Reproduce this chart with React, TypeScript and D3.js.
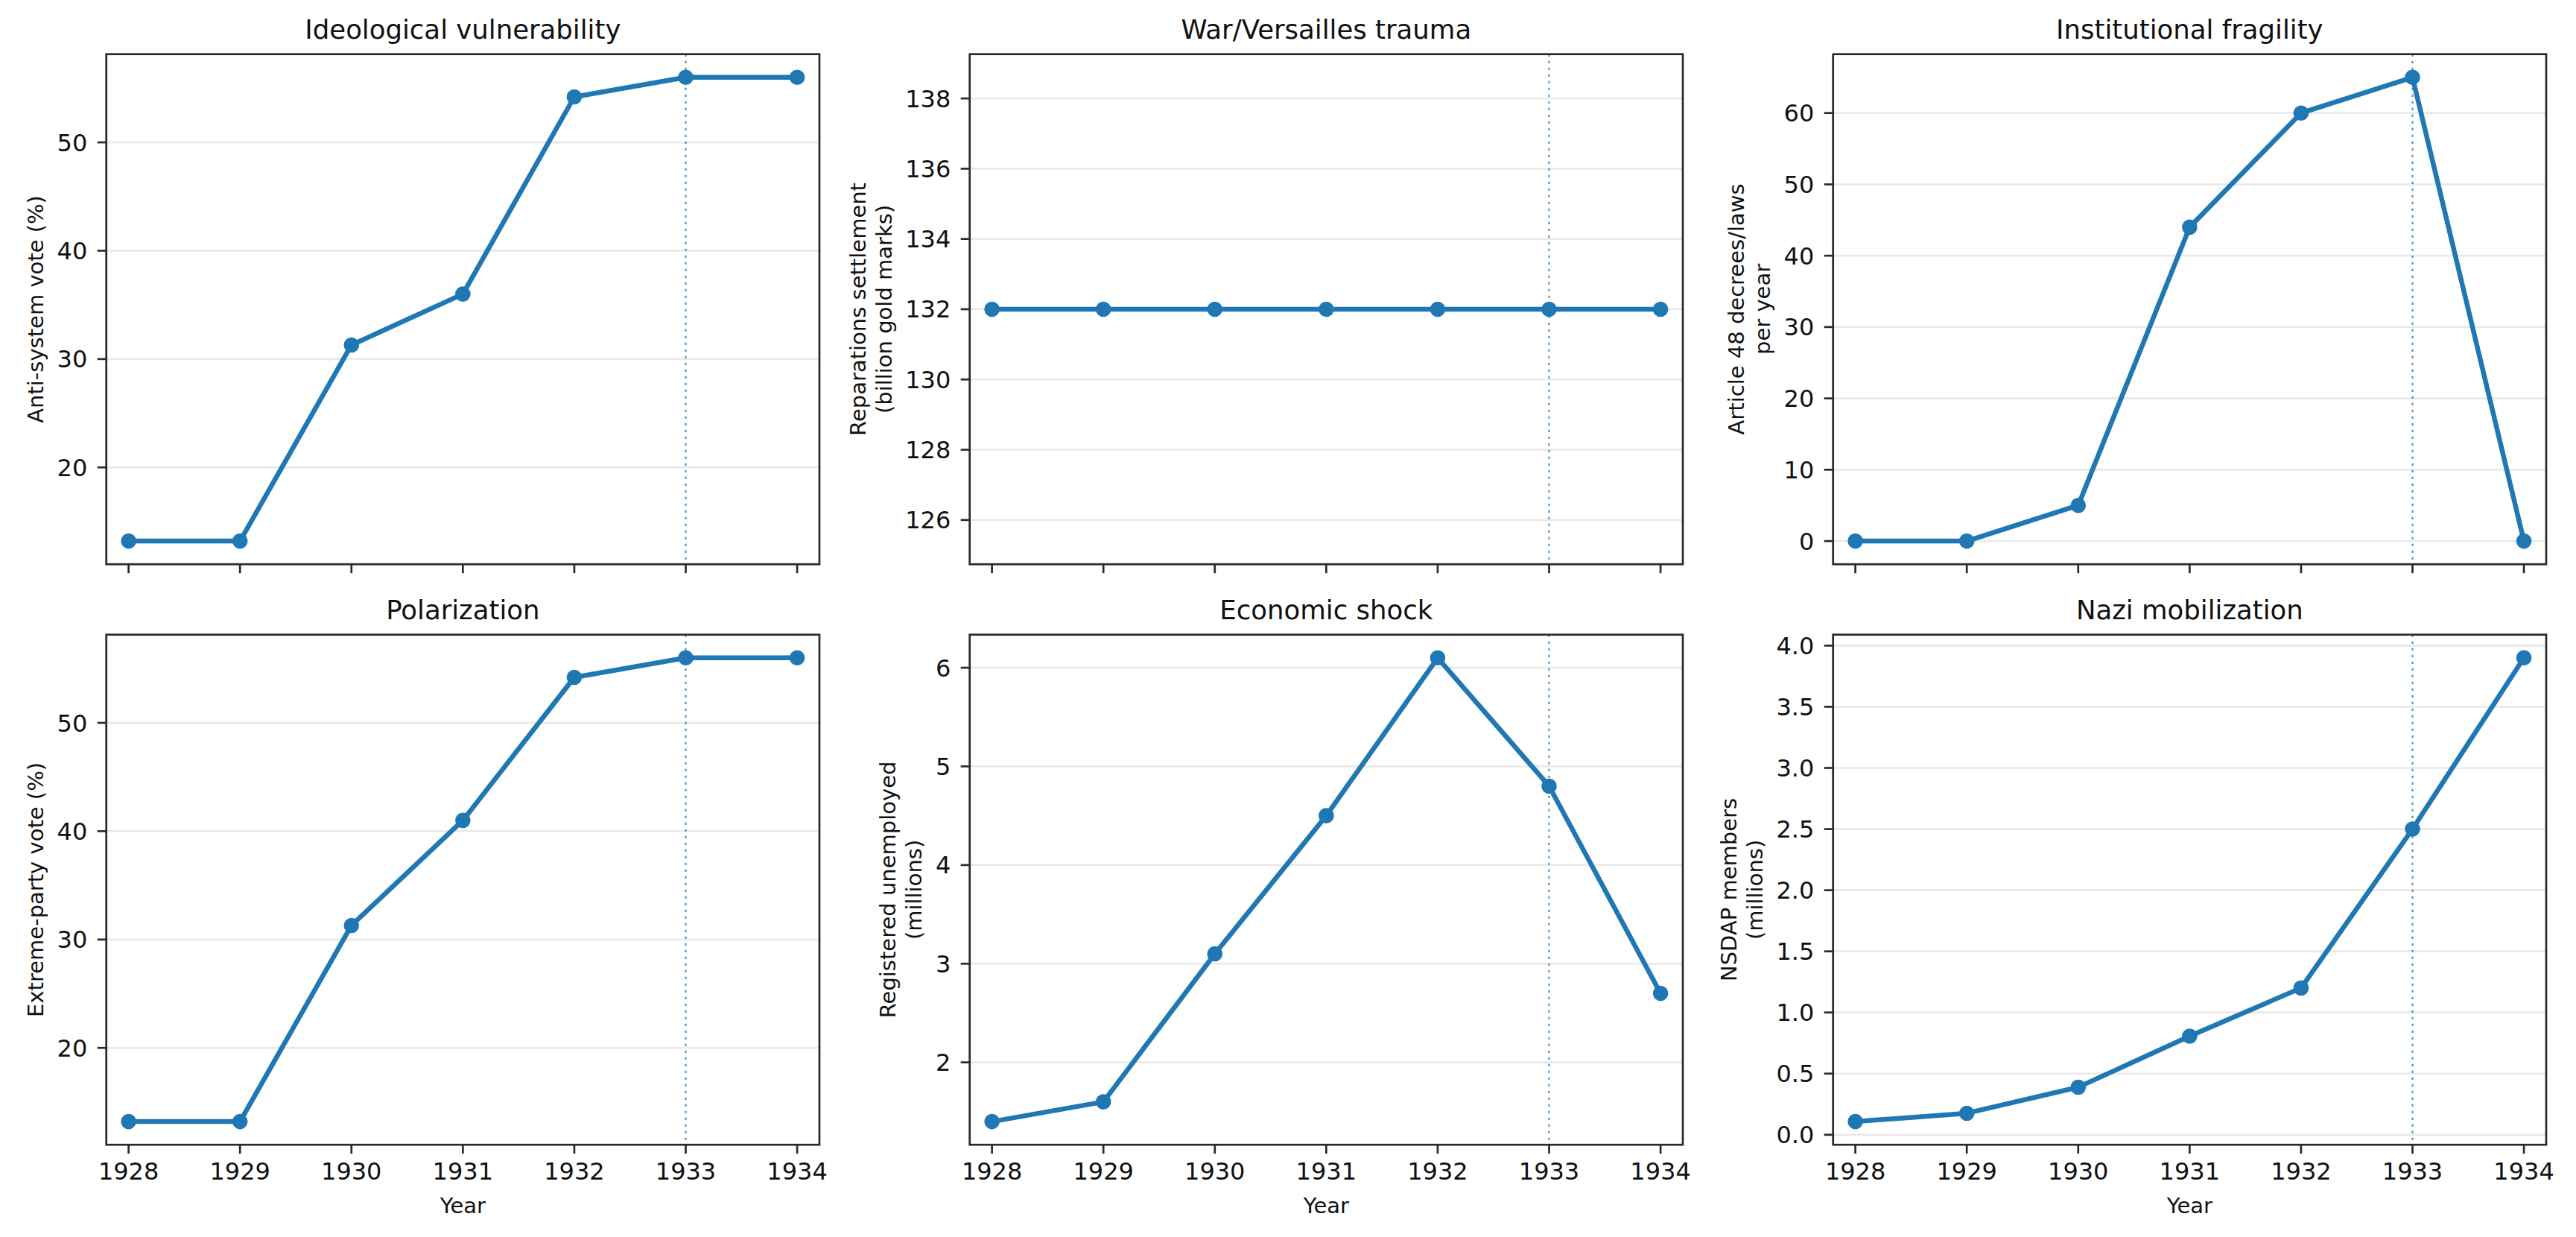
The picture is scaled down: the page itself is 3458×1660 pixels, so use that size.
import React from "react";
import * as d3 from "d3";

// Weimar collapse indicators, 1928-1934
const years = [1928, 1929, 1930, 1931, 1932, 1933, 1934];
const antiSystemVote = [13.2, 13.2, 31.3, 36.0, 54.2, 56.0, 56.0];
const reparations = [132, 132, 132, 132, 132, 132, 132];
const article48Decrees = [0, 0, 5, 44, 60, 65, 0];
const extremePartyVote = [13.2, 13.2, 31.3, 41.0, 54.2, 56.0, 56.0];
const unemployed = [1.4, 1.6, 3.1, 4.5, 6.1, 4.8, 2.7];
const nsdapMembers = [0.108, 0.176, 0.389, 0.806, 1.2, 2.5, 3.9];

const voteTicks = [20, 30, 40, 50];
const reparationTicks = [126, 128, 130, 132, 134, 136, 138];
const decreeTicks = [0, 10, 20, 30, 40, 50, 60];
const unemployedTicks = [2, 3, 4, 5, 6];
const memberTicks = [0, 0.5, 1, 1.5, 2, 2.5, 3, 3.5, 4];

const highlightYear = 1933;
const xDomain: [number, number] = [1927.8, 1934.2];

const panels = [
  { title: "Ideological vulnerability", ylabel: ["Anti-system vote (%)"], values: antiSystemVote, ticks: voteTicks, digits: 0 },
  { title: "War/Versailles trauma", ylabel: ["Reparations settlement", "(billion gold marks)"], values: reparations, ticks: reparationTicks, digits: 0 },
  { title: "Institutional fragility", ylabel: ["Article 48 decrees/laws", "per year"], values: article48Decrees, ticks: decreeTicks, digits: 0 },
  { title: "Polarization", ylabel: ["Extreme-party vote (%)"], values: extremePartyVote, ticks: voteTicks, digits: 0 },
  { title: "Economic shock", ylabel: ["Registered unemployed", "(millions)"], values: unemployed, ticks: unemployedTicks, digits: 0 },
  { title: "Nazi mobilization", ylabel: ["NSDAP members", "(millions)"], values: nsdapMembers, ticks: memberTicks, digits: 1 },
];

const W = 3458;
const H = 1660;
const colLeft = [142.7, 1301.7, 2460.7];
const rowTop = [72.7, 851.7];
const plotW = 957.3;
const plotH = 684.5;

const FONT = "DejaVu Sans";
const tickFs = 32;
const labelFs = 29;
const titleFs = 35.5;
const tickLen = 12;
const tickPad = 13.4;
const blue = "#1f77b4";

// matplotlib-style autoscale: 5% margin, constant data widened first
function paddedDomain(values: number[]): [number, number] {
  let [lo, hi] = d3.extent(values) as [number, number];
  if (lo === hi) {
    const d = Math.abs(lo) * 0.05 || 1;
    lo -= d;
    hi += d;
  }
  const m = (hi - lo) * 0.05;
  return [lo - m, hi + m];
}

function labelWidth(s: string) {
  let w = 0;
  for (const c of s) w += c === "." ? 0.318 : 0.636;
  return w * tickFs;
}

function Panel({ spec, left, top, bottomRow }: any) {
  const x = d3.scaleLinear().domain(xDomain).range([0, plotW]);
  const y = d3.scaleLinear().domain(paddedDomain(spec.values)).range([plotH, 0]);
  const fmt = (t: number) => t.toFixed(spec.digits);
  const path = d3
    .line<number>()
    .x((_, i) => x(years[i]))
    .y((d) => y(d))(spec.values);

  const labelsLeft = -tickLen - tickPad - (d3.max(spec.ticks.map((t: number) => labelWidth(fmt(t)))) as number);
  const lastBaseline = labelsLeft - 18.6;
  const n = spec.ylabel.length;

  return (
    <g transform={`translate(${left},${top})`}>
      {spec.ticks.map((t: number) => (
        <line key={"g" + t} x1={0} x2={plotW} y1={y(t)} y2={y(t)} stroke="#e9e9e9" strokeWidth={2.7} />
      ))}
      <line
        x1={x(highlightYear)}
        x2={x(highlightYear)}
        y1={0}
        y2={plotH}
        stroke={blue}
        strokeOpacity={0.75}
        strokeWidth={2.3}
        strokeDasharray="3.4 5.6"
      />
      <path d={path ?? ""} fill="none" stroke={blue} strokeWidth={6.5} strokeLinejoin="round" />
      {spec.values.map((v: number, i: number) => (
        <circle key={i} cx={x(years[i])} cy={y(v)} r={10.3} fill={blue} />
      ))}
      <rect x={0} y={0} width={plotW} height={plotH} fill="none" stroke="#2a2a2a" strokeWidth={2.7} />

      {spec.ticks.map((t: number) => (
        <g key={"y" + t}>
          <line x1={-tickLen} x2={0} y1={y(t)} y2={y(t)} stroke="#2a2a2a" strokeWidth={2.7} />
          <text
            x={-tickLen - tickPad}
            y={y(t) + 0.36 * tickFs}
            textAnchor="end"
            fontSize={tickFs}
            fontFamily={FONT}
            fill="#111"
          >
            {fmt(t)}
          </text>
        </g>
      ))}

      {years.map((yr) => (
        <g key={"x" + yr}>
          <line x1={x(yr)} x2={x(yr)} y1={plotH} y2={plotH + tickLen} stroke="#2a2a2a" strokeWidth={2.7} />
          {bottomRow && (
            <text x={x(yr)} y={plotH + 47} textAnchor="middle" fontSize={tickFs} fontFamily={FONT} fill="#111">
              {yr}
            </text>
          )}
        </g>
      ))}

      {bottomRow && (
        <text x={plotW / 2} y={plotH + 92} textAnchor="middle" fontSize={labelFs} fontFamily={FONT} fill="#111">
          Year
        </text>
      )}

      {spec.ylabel.map((line: string, i: number) => (
        <text
          key={"l" + i}
          transform={`translate(${lastBaseline - (n - 1 - i) * 35},${plotH / 2}) rotate(-90)`}
          textAnchor="middle"
          fontSize={labelFs}
          fontFamily={FONT}
          fill="#111"
        >
          {line}
        </text>
      ))}

      <text x={plotW / 2} y={-21} textAnchor="middle" fontSize={titleFs} fontFamily={FONT} fill="#111">
        {spec.title}
      </text>
    </g>
  );
}

export default function App() {
  return (
    <svg
      width={W}
      height={H}
      viewBox={`0 0 ${W} ${H}`}
      style={{ position: "absolute", left: 0, top: 0, background: "#fff" }}
    >
      <rect width={W} height={H} fill="#fff" />
      {panels.map((p, i) => (
        <Panel
          key={p.title}
          spec={p}
          left={colLeft[i % 3]}
          top={rowTop[Math.floor(i / 3)]}
          bottomRow={i >= 3}
        />
      ))}
    </svg>
  );
}
